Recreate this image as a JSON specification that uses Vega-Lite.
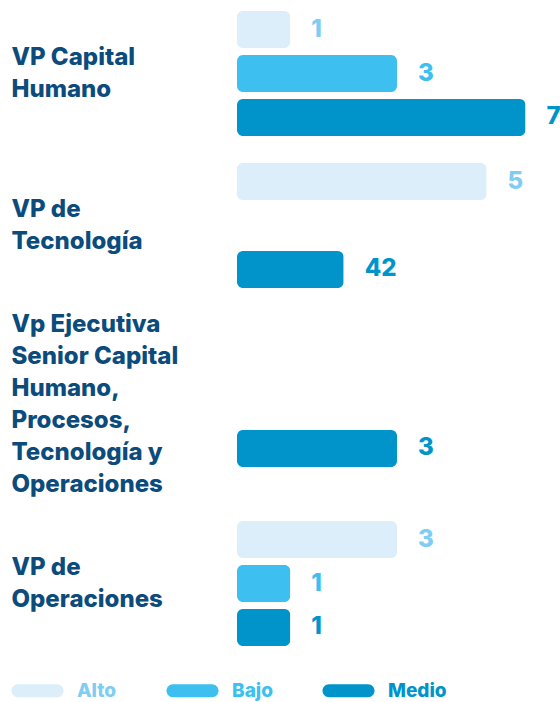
{
  "$schema": "https://vega.github.io/schema/vega-lite/v6.json",
  "padding": {"left": 11, "top": 10, "right": 0, "bottom": 0},
  "background": "white",
  "data": {
    "values": [
      {"area": "VP Capital\nHumano", "nivel": "Alto", "valor": 1, "etiqueta": "1"},
      {"area": "VP Capital\nHumano", "nivel": "Bajo", "valor": 3, "etiqueta": "3"},
      {"area": "VP Capital\nHumano", "nivel": "Medio", "valor": 5.41, "etiqueta": "7"},
      {"area": "VP de\nTecnología", "nivel": "Alto", "valor": 4.68, "etiqueta": "5"},
      {"area": "VP de\nTecnología", "nivel": "Medio", "valor": 2, "etiqueta": "42"},
      {"area": "Vp Ejecutiva\nSenior Capital\nHumano,\nProcesos,\nTecnología y\nOperaciones", "nivel": "Medio", "valor": 3, "etiqueta": "3"},
      {"area": "VP de\nOperaciones", "nivel": "Alto", "valor": 3, "etiqueta": "3"},
      {"area": "VP de\nOperaciones", "nivel": "Bajo", "valor": 1, "etiqueta": "1"},
      {"area": "VP de\nOperaciones", "nivel": "Medio", "valor": 1, "etiqueta": "1"}
    ]
  },
  "spacing": 0,
  "bounds": "flush",
  "resolve": {"scale": {"y": "independent", "yOffset": "independent"}},
  "vconcat": [
    {
      "width": 320, "height": 125,
      "transform": [{"filter": {"field": "area", "equal": "VP Capital\nHumano"}}],
      "encoding": {
        "y": {"field": "area", "type": "nominal", "title": null, "axis": {"labelOffset": -16}, "scale": {"paddingInner": 0, "paddingOuter": 0}},
        "yOffset": {"field": "nivel", "type": "nominal", "scale": {"domain": ["Alto", "Bajo", "Medio"], "paddingInner": 0.159, "paddingOuter": 0}},
        "x": {"field": "valor", "type": "quantitative", "axis": null, "scale": {"domain": [0, 6]}}
      },
      "layer": [
        {"mark": {"type": "bar", "cornerRadius": 6}, "encoding": {"color": {"field": "nivel", "type": "nominal", "title": null,
          "scale": {"domain": ["Alto", "Bajo", "Medio"], "range": ["#dbeefa", "#3dbfef", "#0094cb"]},
          "legend": {"encode": {"labels": {"update": {"fill": {"signal": "datum.value === 'Alto' ? '#7fcdf2' : datum.value === 'Bajo' ? '#3dbfef' : '#0094cb'"}}}}}}}},
        {"mark": {"type": "text", "align": "left", "baseline": "middle", "dx": 21, "font": "Inter", "fontSize": 24, "fontWeight": 800}, "encoding": {"text": {"field": "etiqueta"}, "fill": {"condition": [{"test": "datum.nivel === 'Alto'", "value": "#7fcdf2"}, {"test": "datum.nivel === 'Bajo'", "value": "#3dbfef"}], "value": "#0094cb"}}}
      ]
    },
    {
      "width": 320, "height": 179,
      "transform": [{"filter": {"field": "area", "equal": "VP de\nTecnología"}}],
      "encoding": {
        "y": {"field": "area", "type": "nominal", "title": null, "axis": {"labelOffset": -16}, "scale": {"paddingInner": 0, "paddingOuter": 0}},
        "yOffset": {"field": "nivel", "type": "nominal", "scale": {"domain": ["Alto", "Bajo", "Medio"], "paddingInner": 0.159, "paddingOuter": 0.614}},
        "x": {"field": "valor", "type": "quantitative", "axis": null, "scale": {"domain": [0, 6]}}
      },
      "layer": [
        {"mark": {"type": "bar", "cornerRadius": 6}, "encoding": {"color": {"field": "nivel", "type": "nominal", "title": null}}},
        {"mark": {"type": "text", "align": "left", "baseline": "middle", "dx": 21, "font": "Inter", "fontSize": 24, "fontWeight": 800}, "encoding": {"text": {"field": "etiqueta"}, "fill": {"condition": [{"test": "datum.nivel === 'Alto'", "value": "#7fcdf2"}, {"test": "datum.nivel === 'Bajo'", "value": "#3dbfef"}], "value": "#0094cb"}}}
      ]
    },
    {
      "width": 320, "height": 179,
      "transform": [{"filter": {"field": "area", "equal": "Vp Ejecutiva\nSenior Capital\nHumano,\nProcesos,\nTecnología y\nOperaciones"}}],
      "encoding": {
        "y": {"field": "area", "type": "nominal", "title": null, "axis": {"labelOffset": -80}, "scale": {"paddingInner": 0, "paddingOuter": 0}},
        "yOffset": {"field": "nivel", "type": "nominal", "scale": {"domain": ["Alto", "Bajo", "Medio"], "paddingInner": 0.159, "paddingOuter": 0.614}},
        "x": {"field": "valor", "type": "quantitative", "axis": null, "scale": {"domain": [0, 6]}}
      },
      "layer": [
        {"mark": {"type": "bar", "cornerRadius": 6}, "encoding": {"color": {"field": "nivel", "type": "nominal", "title": null}}},
        {"mark": {"type": "text", "align": "left", "baseline": "middle", "dx": 21, "font": "Inter", "fontSize": 24, "fontWeight": 800}, "encoding": {"text": {"field": "etiqueta"}, "fill": {"condition": [{"test": "datum.nivel === 'Alto'", "value": "#7fcdf2"}, {"test": "datum.nivel === 'Bajo'", "value": "#3dbfef"}], "value": "#0094cb"}}}
      ]
    },
    {
      "width": 320, "height": 179,
      "transform": [{"filter": {"field": "area", "equal": "VP de\nOperaciones"}}],
      "encoding": {
        "y": {"field": "area", "type": "nominal", "title": null, "axis": {"labelOffset": -16}, "scale": {"paddingInner": 0, "paddingOuter": 0}},
        "yOffset": {"field": "nivel", "type": "nominal", "scale": {"domain": ["Alto", "Bajo", "Medio"], "paddingInner": 0.159, "paddingOuter": 0.614}},
        "x": {"field": "valor", "type": "quantitative", "axis": null, "scale": {"domain": [0, 6]}}
      },
      "layer": [
        {"mark": {"type": "bar", "cornerRadius": 6}, "encoding": {"color": {"field": "nivel", "type": "nominal", "title": null}}},
        {"mark": {"type": "text", "align": "left", "baseline": "middle", "dx": 21, "font": "Inter", "fontSize": 24, "fontWeight": 800}, "encoding": {"text": {"field": "etiqueta"}, "fill": {"condition": [{"test": "datum.nivel === 'Alto'", "value": "#7fcdf2"}, {"test": "datum.nivel === 'Bajo'", "value": "#3dbfef"}], "value": "#0094cb"}}}
      ]
    }
  ],
  "config": {
    "view": {"stroke": null},
    "axisY": {
      "domain": false, "ticks": false, "grid": false,
      "labelAlign": "left", "labelBaseline": "middle", "labelPadding": 226,
      "labelFont": "Inter", "labelFontSize": 24, "labelFontWeight": 800,
      "labelColor": "#0c4c7c", "labelLineHeight": 32, "labelLimit": 400,
      "labelExpr": "split(datum.label, '\\n')"
    },
    "legend": {
      "orient": "none", "legendX": -209, "legendY": 670, "direction": "horizontal",
      "symbolType": "M-3,-1H3A1,1 0 0 1 3,1H-3A1,1 0 0 1 -3,-1Z",
      "symbolSize": 169, "symbolStrokeWidth": 0, "symbolOpacity": 1,
      "labelFont": "Inter", "labelFontSize": 19, "labelFontWeight": 800,
      "labelOffset": 30, "columnPadding": 49
    }
  }
}
